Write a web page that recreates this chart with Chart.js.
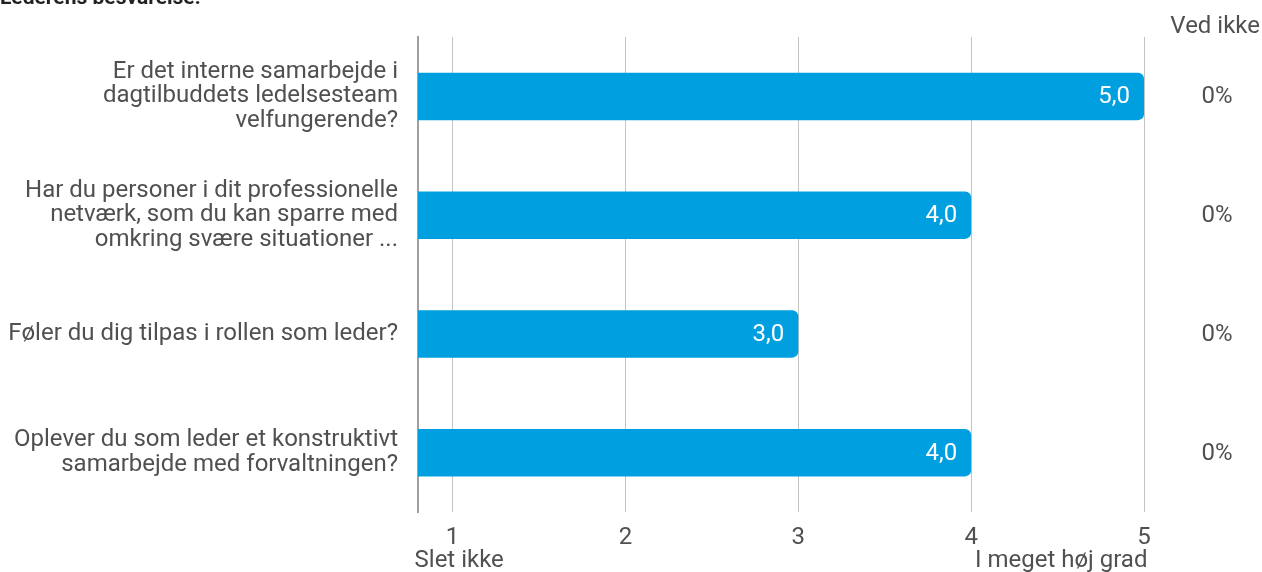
<!DOCTYPE html>
<html>
<head>
<meta charset="utf-8">
<script src="https://cdn.jsdelivr.net/npm/chart.js@4"></script>
<style>
    html, body { margin: 0; padding: 0; background: #fff; overflow: hidden; }
    #wrap { position: relative; width: 1262px; height: 572px; }
    #title {
        position: absolute; left: 0; top: -15px;
        font-family: Roboto, sans-serif; font-weight: bold; font-size: 21px; color: #222;
    }
</style>
</head>
<body>
<div id="wrap">
    <canvas id="chart" width="1262" height="572"></canvas>
    <div id="title">Lederens besvarelse:</div>
</div>
<script>
const questions = [
    ['Er det interne samarbejde i', 'dagtilbuddets ledelsesteam', 'velfungerende?'],
    ['Har du personer i dit professionelle', 'netværk, som du kan sparre med', 'omkring svære situationer ...'],
    ['Føler du dig tilpas i rollen som leder?'],
    ['Oplever du som leder et konstruktivt', 'samarbejde med forvaltningen?']
];
const scores = [5.0, 4.0, 3.0, 4.0];
const dontKnow = [0, 0, 0, 0];
const tickValues = [1, 2, 3, 4, 5];
const scaleEnds = ['Slet ikke', 'I meget høj grad'];
const dontKnowTitle = 'Ved ikke';

const textColor = '#505050';
const font = 'Roboto, sans-serif';
const fontSize = 24;

// Writes values inside bars, the "Ved ikke" column and the scale end captions
const extrasPlugin = {
    id: 'extras',
    afterDatasetsDraw(chart) {
        const ctx = chart.ctx;
        const meta = chart.getDatasetMeta(0);
        const x = chart.scales.x;
        ctx.save();
        ctx.font = fontSize + 'px ' + font;
        ctx.textBaseline = 'middle';
        meta.data.forEach((bar, i) => {
            ctx.fillStyle = '#fff';
            ctx.textAlign = 'right';
            ctx.fillText(scores[i].toFixed(1).replace('.', ','), bar.x - 14, bar.y + 1);
            ctx.fillStyle = textColor;
            ctx.textAlign = 'center';
            ctx.fillText(dontKnow[i] + '%', 1217, bar.y + 1);
        });
        ctx.textAlign = 'right';
        ctx.textBaseline = 'alphabetic';
        ctx.fillText(dontKnowTitle, 1260, 33);
        ctx.textAlign = 'left';
        ctx.fillText(scaleEnds[0], x.getPixelForValue(0.78), 567);
        ctx.textAlign = 'right';
        ctx.fillText(scaleEnds[1], x.getPixelForValue(5.02), 567);
        ctx.restore();
    }
};

new Chart(document.getElementById('chart'), {
    type: 'bar',
    data: {
        labels: questions,
        datasets: [{
            data: scores,
            backgroundColor: '#009FE0',
            borderRadius: 6,
            borderSkipped: 'start',
            barPercentage: 0.8,
            categoryPercentage: 0.5
        }]
    },
    options: {
        indexAxis: 'y',
        responsive: false,
        animation: false,
        layout: { padding: { top: 37, right: 118, left: 0, bottom: 0 } },
        plugins: {
            legend: { display: false },
            tooltip: { enabled: false }
        },
        scales: {
            x: {
                min: 0.8,
                max: 5,
                afterBuildTicks(scale) {
                    scale.ticks = tickValues.map(v => ({ value: v }));
                },
                afterFit(scale) { scale.height = 60; },
                grid: { color: '#c4c4c4', drawTicks: false },
                border: { display: false },
                ticks: {
                    color: textColor,
                    font: { family: font, size: fontSize },
                    padding: 12
                }
            },
            y: {
                afterFit(scale) {
                    scale.width = 418;
                    scale.paddingTop = 0;
                    scale.paddingBottom = 0;
                },
                grid: { display: false, drawTicks: false },
                border: { color: '#a0a0a0', width: 2 },
                ticks: {
                    color: textColor,
                    font: { family: font, size: fontSize, lineHeight: 1.02 },
                    padding: 20
                }
            }
        }
    },
    plugins: [extrasPlugin]
});
</script>
</body>
</html>
